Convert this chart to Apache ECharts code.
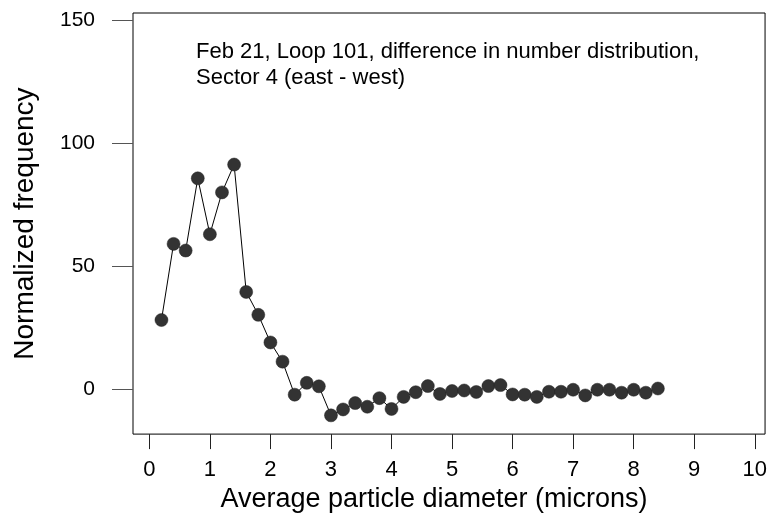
<!DOCTYPE html>
<html>
<head>
<meta charset="utf-8">
<script src="https://cdn.jsdelivr.net/npm/echarts@6/dist/echarts.min.js"></script>
<style>
html, body { margin: 0; padding: 0; background: #fff; }
#chart { width: 770px; height: 518px; }
</style>
</head>
<body>
<div id="chart"></div>
<script>
// Particle diameter (microns)
var diameters = [0.2, 0.4, 0.6, 0.8, 1.0, 1.2, 1.4, 1.6, 1.8, 2.0,
                 2.2, 2.4, 2.6, 2.8, 3.0, 3.2, 3.4, 3.6, 3.8, 4.0,
                 4.2, 4.4, 4.6, 4.8, 5.0, 5.2, 5.4, 5.6, 5.8, 6.0,
                 6.2, 6.4, 6.6, 6.8, 7.0, 7.2, 7.4, 7.6, 7.8, 8.0,
                 8.2, 8.4];
// Normalized frequency difference (east - west)
var frequency = [28.2, 59.1, 56.4, 85.7, 63.0, 80.0, 91.3, 39.6, 30.3, 19.1,
                 11.3, -2.1, 2.7, 1.3, -10.5, -8.1, -5.5, -7.0, -3.5, -7.9,
                 -3.0, -1.1, 1.4, -1.8, -0.6, -0.4, -1.0, 1.4, 1.8, -2.0,
                 -2.1, -3.0, -0.9, -0.9, -0.1, -2.4, -0.1, -0.1, -1.3, -0.1,
                 -1.3, 0.4];
var xTicks = [0, 1, 2, 3, 4, 5, 6, 7, 8, 9, 10];
var yTicks = [0, 50, 100, 150];
var annotation = ['Feb 21, Loop 101, difference in number distribution,', 'Sector 4 (east - west)'];
var xTitle = 'Average particle diameter (microns)';
var yTitle = 'Normalized frequency';

var FONT = '"Liberation Sans", Arial, sans-serif';
var points = diameters.map(function (d, i) { return [d, frequency[i]]; });

var chart = echarts.init(document.getElementById('chart'), null, { renderer: 'canvas' });
chart.setOption({
  animation: false,
  backgroundColor: '#fff',
  title: {
    text: annotation.join('\n'),
    left: 196,
    top: 39,
    padding: 0,
    textStyle: { fontFamily: FONT, fontSize: 22, fontWeight: 'normal', color: '#000', lineHeight: 26 }
  },
  grid: {
    left: 133, right: 4, top: 13, bottom: 81,
    show: true, borderColor: '#000', borderWidth: 1, backgroundColor: 'transparent'
  },
  xAxis: {
    type: 'value',
    min: -0.27, max: 10.17,
    axisLine: { show: false, onZero: false },
    splitLine: { show: false },
    axisTick: { show: true, length: 15, customValues: xTicks, lineStyle: { color: '#222', width: 1 } },
    axisLabel: { customValues: xTicks, margin: 25, fontFamily: FONT, fontSize: 22, color: '#000' },
    name: xTitle,
    nameLocation: 'middle',
    nameGap: 47,
    nameTextStyle: { fontFamily: FONT, fontSize: 27, color: '#000', padding: [0, 30, 0, 0] }
  },
  yAxis: {
    type: 'value',
    min: -18.1, max: 152.8,
    axisLine: { show: false, onZero: false },
    splitLine: { show: false },
    axisTick: { show: true, length: 21, customValues: yTicks, lineStyle: { color: '#555', width: 1 } },
    axisLabel: { customValues: yTicks, margin: 38, fontFamily: FONT, fontSize: 21, color: '#000' },
    name: yTitle,
    nameLocation: 'middle',
    nameRotate: 90,
    nameGap: 94,
    nameTextStyle: { fontFamily: FONT, fontSize: 28, color: '#000' }
  },
  series: [{
    type: 'line',
    data: points,
    symbol: 'circle',
    symbolSize: 13,
    showSymbol: true,
    lineStyle: { color: '#000', width: 1 },
    itemStyle: { color: '#333', borderColor: '#222', borderWidth: 0.5 },
    z: 3
  }]
});
</script>
</body>
</html>
